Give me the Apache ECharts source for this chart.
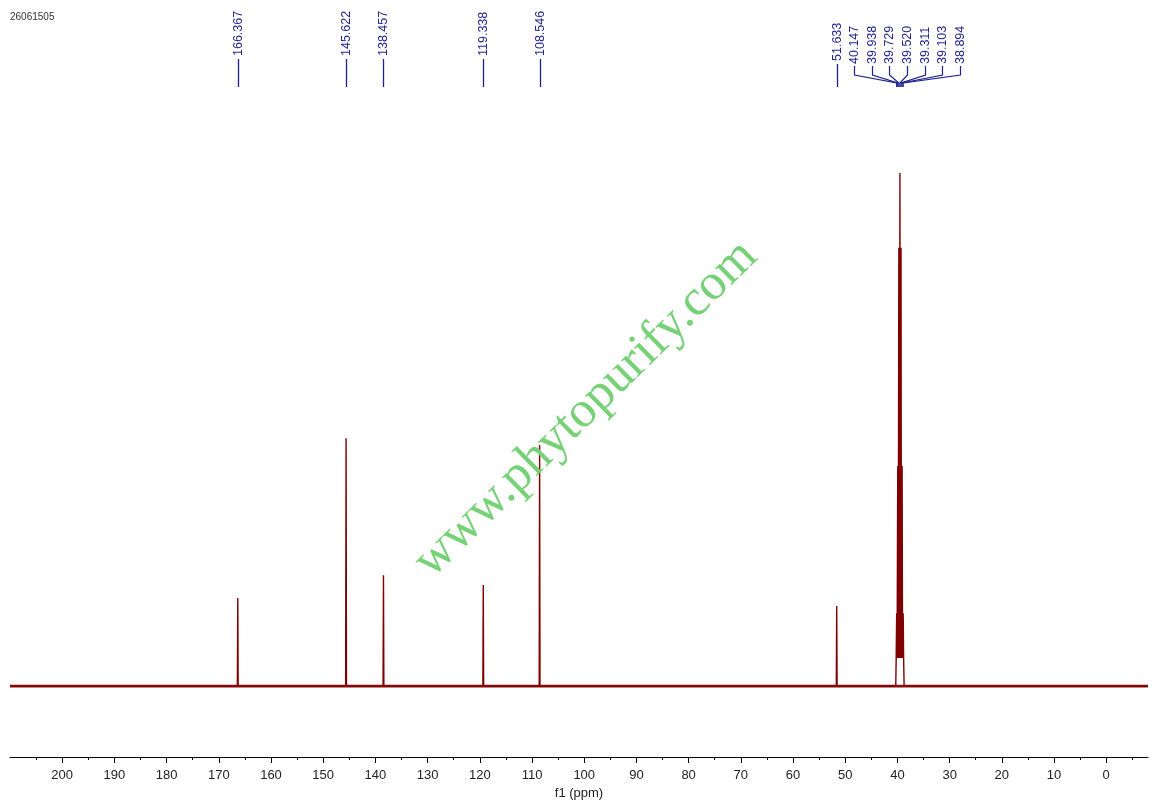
<!DOCTYPE html>
<html>
<head>
<meta charset="utf-8">
<script src="https://cdn.jsdelivr.net/npm/echarts@6.0.0/dist/echarts.min.js"></script>
<style>
  html, body { margin: 0; padding: 0; background: #ffffff; }
  #chart { width: 1158px; height: 804px; }
</style>
</head>
<body>
<div id="chart"></div>
<script>
// ---- data ----
const sampleId = '26061505';
const axisName = 'f1 (ppm)';
const watermark = 'www.phytopurify.com';

// isolated peaks (ppm, relative height)
const peakPpm    = [166.367, 145.622, 138.457, 119.338, 108.546, 51.633];
const peakHeight = [17.2,    48.3,    21.6,    19.7,    47.0,    15.6];

// DMSO-d6 septet
const clusterPpm    = [40.147, 39.938, 39.729, 39.520, 39.311, 39.103, 38.894];
const clusterHeight = [14.2,   42.9,   85.4,   100.0,  85.4,   42.9,   14.2];
const clusterFloor  = 5.5;   // broad base of the solvent multiplet

// axis ticks
const majorTicks = [200, 190, 180, 170, 160, 150, 140, 130, 120, 110, 100, 90, 80, 70, 60, 50, 40, 30, 20, 10, 0];
const minorTicks = [205, 195, 185, 175, 165, 155, 145, 135, 125, 115, 105, 95, 85, 75, 65, 55, 45, 35, 25, 15, 5, -5];
const xMin = -8, xMax = 210;

// ---- build the spectrum trace from the peak lists ----
const w = 0.08;
let pts = [[xMax, 0], [xMin, 0]];
peakPpm.forEach((p, i) => {
  pts.push([p + w, 0], [p, peakHeight[i]], [p - w, 0]);
});
pts.push([40.32, 0], [40.24, clusterFloor], [38.8, clusterFloor], [38.72, 0]);
clusterPpm.forEach((p, i) => {
  pts.push([p + w, clusterFloor], [p, clusterHeight[i]], [p - w, clusterFloor]);
});
pts.sort((a, b) => b[0] - a[0]);

const labelColor = '#1f1f8f';
const labelFont = '12.5px "Liberation Sans", Arial, sans-serif';

const chart = echarts.init(document.getElementById('chart'), null, { renderer: 'canvas' });

chart.setOption({
  animation: false,
  backgroundColor: '#ffffff',
  grid: { left: 10, right: 10, top: 100, bottom: 47, containLabel: false, outerBoundsMode: 'none' },
  xAxis: [
    {
      type: 'value', min: xMin, max: xMax, inverse: true, position: 'bottom',
      splitLine: { show: false },
      axisLine: { show: true, onZero: false, lineStyle: { color: '#000', width: 1.2 } },
      axisTick: { show: true, customValues: majorTicks, length: 6, lineStyle: { color: '#000', width: 1 } },
      axisLabel: { show: true, customValues: majorTicks, margin: 12, color: '#222',
                   fontSize: 13, fontFamily: '"Liberation Sans", Arial, sans-serif' },
      name: axisName, nameLocation: 'middle', nameGap: 30,
      nameTextStyle: { color: '#222', fontSize: 13, fontFamily: '"Liberation Sans", Arial, sans-serif' }
    },
    {
      type: 'value', min: xMin, max: xMax, inverse: true, position: 'bottom', offset: 0,
      splitLine: { show: false },
      axisLine: { show: false, onZero: false },
      axisTick: { show: true, customValues: minorTicks, length: 3, lineStyle: { color: '#000', width: 1 } },
      axisLabel: { show: false }
    }
  ],
  yAxis: { type: 'value', min: -13.8, max: 114.2, show: false, splitLine: { show: false } },
  graphic: [
    { type: 'text', x: 10, y: 12, z: 10,
      style: { text: sampleId, font: '10px "Liberation Sans", Arial, sans-serif', fill: '#333' } },
    { type: 'text', x: 586, y: 409, rotation: Math.PI / 4 - 0.01, z: 100,
      style: { text: watermark, font: '51px "Liberation Serif", "DejaVu Serif", serif', fill: '#77d277',
               align: 'center', verticalAlign: 'middle', textAlign: 'center', textVerticalAlign: 'middle' } }
  ],
  series: [
    {
      type: 'line', xAxisIndex: 0, yAxisIndex: 0, showSymbol: false, symbol: 'none', silent: true,
      data: [[xMax, 0], [xMin, 0]],
      lineStyle: { color: '#8b1010', width: 2.8 }, z: 2
    },
    {
      type: 'line', xAxisIndex: 0, yAxisIndex: 0, showSymbol: false, symbol: 'none', silent: true,
      data: pts,
      lineStyle: { color: '#800000', width: 1.4 }, z: 3
    },
    {
      // labels of isolated peaks
      type: 'custom', xAxisIndex: 0, yAxisIndex: 0, silent: true, clip: false,
      data: peakPpm.map(p => [p, 0]),
      encode: { x: 0, y: 1 },
      renderItem: function (params, api) {
        const p = api.value(0);
        const x = Math.round(api.coord([p, 0])[0]) + 0.5;
        const txt = p.toFixed(3);
        const end = txt.length > 6 ? 56 : 61;
        return {
          type: 'group',
          children: [
            { type: 'line', shape: { x1: x, y1: end + 3, x2: x, y2: 87 },
              style: { stroke: labelColor, lineWidth: 1.3 } },
            { type: 'text', x: x, y: end, rotation: Math.PI / 2,
              style: { text: txt, x: 0, y: 0, font: labelFont, fill: labelColor,
                       align: 'left', verticalAlign: 'middle', textAlign: 'left', textVerticalAlign: 'middle' } }
          ]
        };
      }
    },
    {
      // labels of the solvent multiplet
      type: 'custom', xAxisIndex: 0, yAxisIndex: 0, silent: true, clip: false,
      data: clusterPpm.map(p => [p, 0]),
      encode: { x: 0, y: 1 },
      renderItem: function (params, api) {
        const i = params.dataIndex;
        const p = api.value(0);
        const px = api.coord([p, 0])[0];
        const cx = api.coord([clusterPpm[3], 0])[0];
        const lx = Math.round(cx + 7 + (i - 3) * 17.7) + 0.5;
        const txt = p.toFixed(3);
        return {
          type: 'group',
          children: [
            { type: 'polyline', shape: { points: [[lx, 66], [lx, 75], [px, 83], [px, 87]] },
              style: { stroke: labelColor, lineWidth: 1.2, fill: null } },
            { type: 'text', x: lx, y: 64, rotation: Math.PI / 2,
              style: { text: txt, x: 0, y: 0, font: labelFont, fill: labelColor,
                       align: 'left', verticalAlign: 'middle', textAlign: 'left', textVerticalAlign: 'middle' } }
          ]
        };
      }
    }
  ]
});
</script>
</body>
</html>
